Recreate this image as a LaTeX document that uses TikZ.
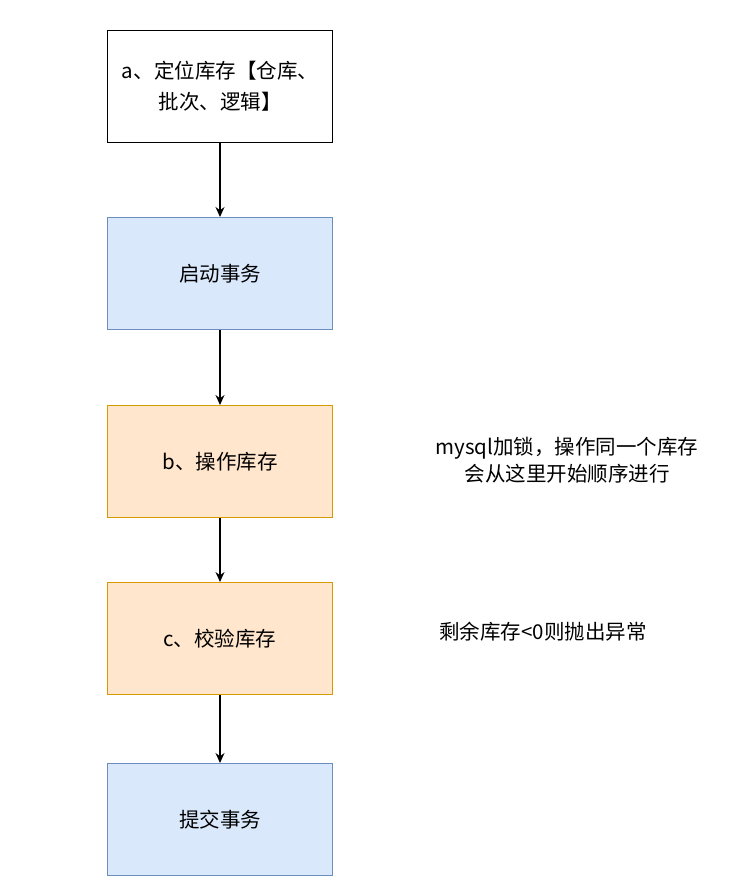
\documentclass[tikz,border=0pt]{standalone}
\usepackage{fontspec}
\setmainfont{Noto Sans CJK SC}
\usetikzlibrary{arrows.meta}
\begin{document}
\begin{tikzpicture}[x=1pt,y=-1pt,
  box/.style={draw,line width=1pt,minimum width=225pt,minimum height=112pt,anchor=north west,align=center,font=\fontsize{20.5}{31}\selectfont,inner sep=0pt},
  blue/.style={box,fill={rgb,255:red,218;green,232;blue,252},draw={rgb,255:red,108;green,142;blue,191}},
  orange/.style={box,fill={rgb,255:red,255;green,230;blue,204},draw={rgb,255:red,215;green,155;blue,0}},
  note/.style={align=center,font=\fontsize{20.5}{27}\selectfont},
  arr/.style={-{Stealth[length=10pt,width=9pt]},line width=1.4pt}]
\useasboundingbox (0,0) rectangle (748,890);
\node[box,fill=white,text width=224pt] (a) at (107,30) {a、定位库存【仓库、\\批次、逻辑】};
\node[blue] (s) at (107,217) {启动事务};
\node[orange] (b) at (107,405) {b、操作库存};
\node[orange] (c) at (107,582) {c、校验库存};
\node[blue] (t) at (107,763) {提交事务};
\node[note] (n1) at (567,460) {mysql加锁，操作同一个库存\\会从这里开始顺序进行};
\node[note] (n2) at (543,632) {剩余库存<0则抛出异常};
\draw[arr] (a) -- (s);
\draw[arr] (s) -- (b);
\draw[arr] (b) -- (c);
\draw[arr] (c) -- (t);
\end{tikzpicture}
\end{document}
